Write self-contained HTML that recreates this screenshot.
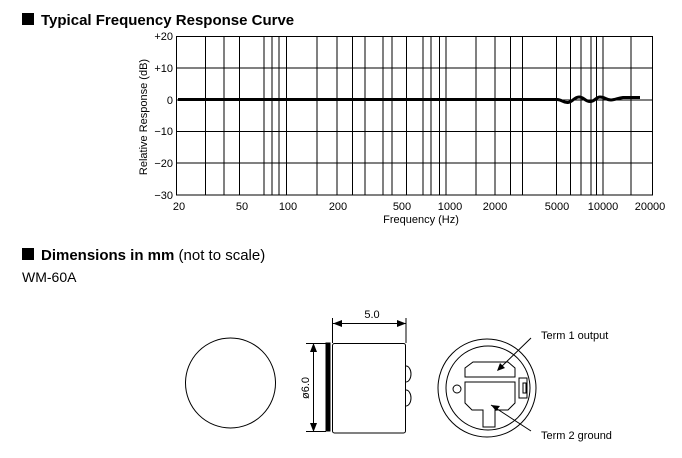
<!DOCTYPE html>
<html><head><meta charset="utf-8"><style>
body{margin:0;background:#fff;width:682px;height:458px;overflow:hidden}
svg{display:block}
text{font-family:"Liberation Sans",Arial,sans-serif;fill:#000}
</style></head><body>
<svg width="682" height="458" viewBox="0 0 682 458" xmlns="http://www.w3.org/2000/svg">
<rect x="22" y="13" width="12" height="12" fill="#000"/>
<text x="41" y="25" font-size="15" font-weight="bold">Typical Frequency Response Curve</text>
<g stroke="#000" stroke-width="1" fill="none">
<rect x="176.5" y="36.5" width="476" height="158.5"/>
<line x1="176" y1="68" x2="653" y2="68"/>
<line x1="176" y1="100" x2="653" y2="100"/>
<line x1="176" y1="131.5" x2="653" y2="131.5"/>
<line x1="176" y1="163" x2="653" y2="163"/>
<path d="M205.5 36V195M224 36V195M239.5 36V195M264 36V195M272 36V195M279 36V195M286.5 36V195M317 36V195M337 36V195M352.5 36V195M365 36V195M383 36V195M392 36V195M406.5 36V195M423 36V195M431 36V195M439.5 36V195M446 36V195M476 36V195M495 36V195M510.5 36V195M522.5 36V195M556.5 36V195M570.5 36V195M581 36V195M591 36V195M596.5 36V195M603 36V195M631 36V195"/>
</g>
<path d="M178 99.5 L557 99.5 C562 99.5 563 103 568 102.5 C573 102 574 97 579 97 C584 97 585 101.5 590 101.5 C595 101.5 596 97 600 97 C605 97 606 100 611 100 C615 100 618 98 623 97.5 L640 97.5" stroke="#000" stroke-width="3" fill="none"/>
<g font-size="11" text-anchor="end">
<text x="173" y="40">+20</text><text x="173" y="72">+10</text><text x="173" y="104">0</text>
<text x="173" y="135">−10</text><text x="173" y="167">−20</text><text x="173" y="199">−30</text>
</g>
<g font-size="11" text-anchor="middle">
<text x="179" y="210">20</text><text x="242" y="210">50</text><text x="288" y="210">100</text>
<text x="338" y="210">200</text><text x="402" y="210">500</text><text x="450" y="210">1000</text>
<text x="495" y="210">2000</text><text x="557" y="210">5000</text><text x="603" y="210">10000</text>
<text x="650" y="210">20000</text>
<text x="421" y="223">Frequency (Hz)</text>
<text transform="translate(147,117) rotate(-90)">Relative Response (dB)</text>
</g>
<rect x="22" y="248" width="12" height="12" fill="#000"/>
<text x="41" y="260" font-size="15"><tspan font-weight="bold">Dimensions in mm</tspan> (not to scale)</text>
<text x="22" y="282" font-size="14">WM-60A</text>
<g stroke="#000" stroke-width="1" fill="none">
<circle cx="230.5" cy="383" r="45"/>
<rect x="332.5" y="343.5" width="73" height="89.5" rx="2"/>
<rect x="326" y="343" width="4" height="88" fill="#000"/>
<path d="M306 343.5H326M306 431.5H326M313.5 343V432M332.5 318V343M406 318V343M333 323.5H406"/>
<path d="M406 366 A5 8 0 0 1 406 382M406 390 A5 8 0 0 1 406 406"/>
<circle cx="487" cy="388" r="49"/>
<circle cx="488" cy="388" r="42"/>
<path d="M465 377V368L473 362H508L515 368V377Z"/>
<path d="M465 382H515V403L508 410H495V427H483V410H472L465 403Z"/>
<circle cx="457" cy="389" r="4"/>
<rect x="519" y="378" width="8" height="20"/>
<rect x="523" y="383" width="3" height="10"/>
<path d="M531 338L498 370M491 405L531 431"/>
</g>
<path d="M313.5 343L310 352H317Z M313.5 432L310 423H317Z M333 323.5L342 320V327Z M406 323.5L397 320V327Z M497 371L500 363L505 368Z M491 405L500 406L496 411Z" fill="#000"/>
<text x="372" y="318" font-size="11" text-anchor="middle">5.0</text>
<text transform="translate(309,388) rotate(-90)" font-size="11" text-anchor="middle">ø6.0</text>
<text x="541" y="339" font-size="11">Term 1 output</text>
<text x="541" y="439" font-size="11">Term 2 ground</text>
</svg>
</body></html>
